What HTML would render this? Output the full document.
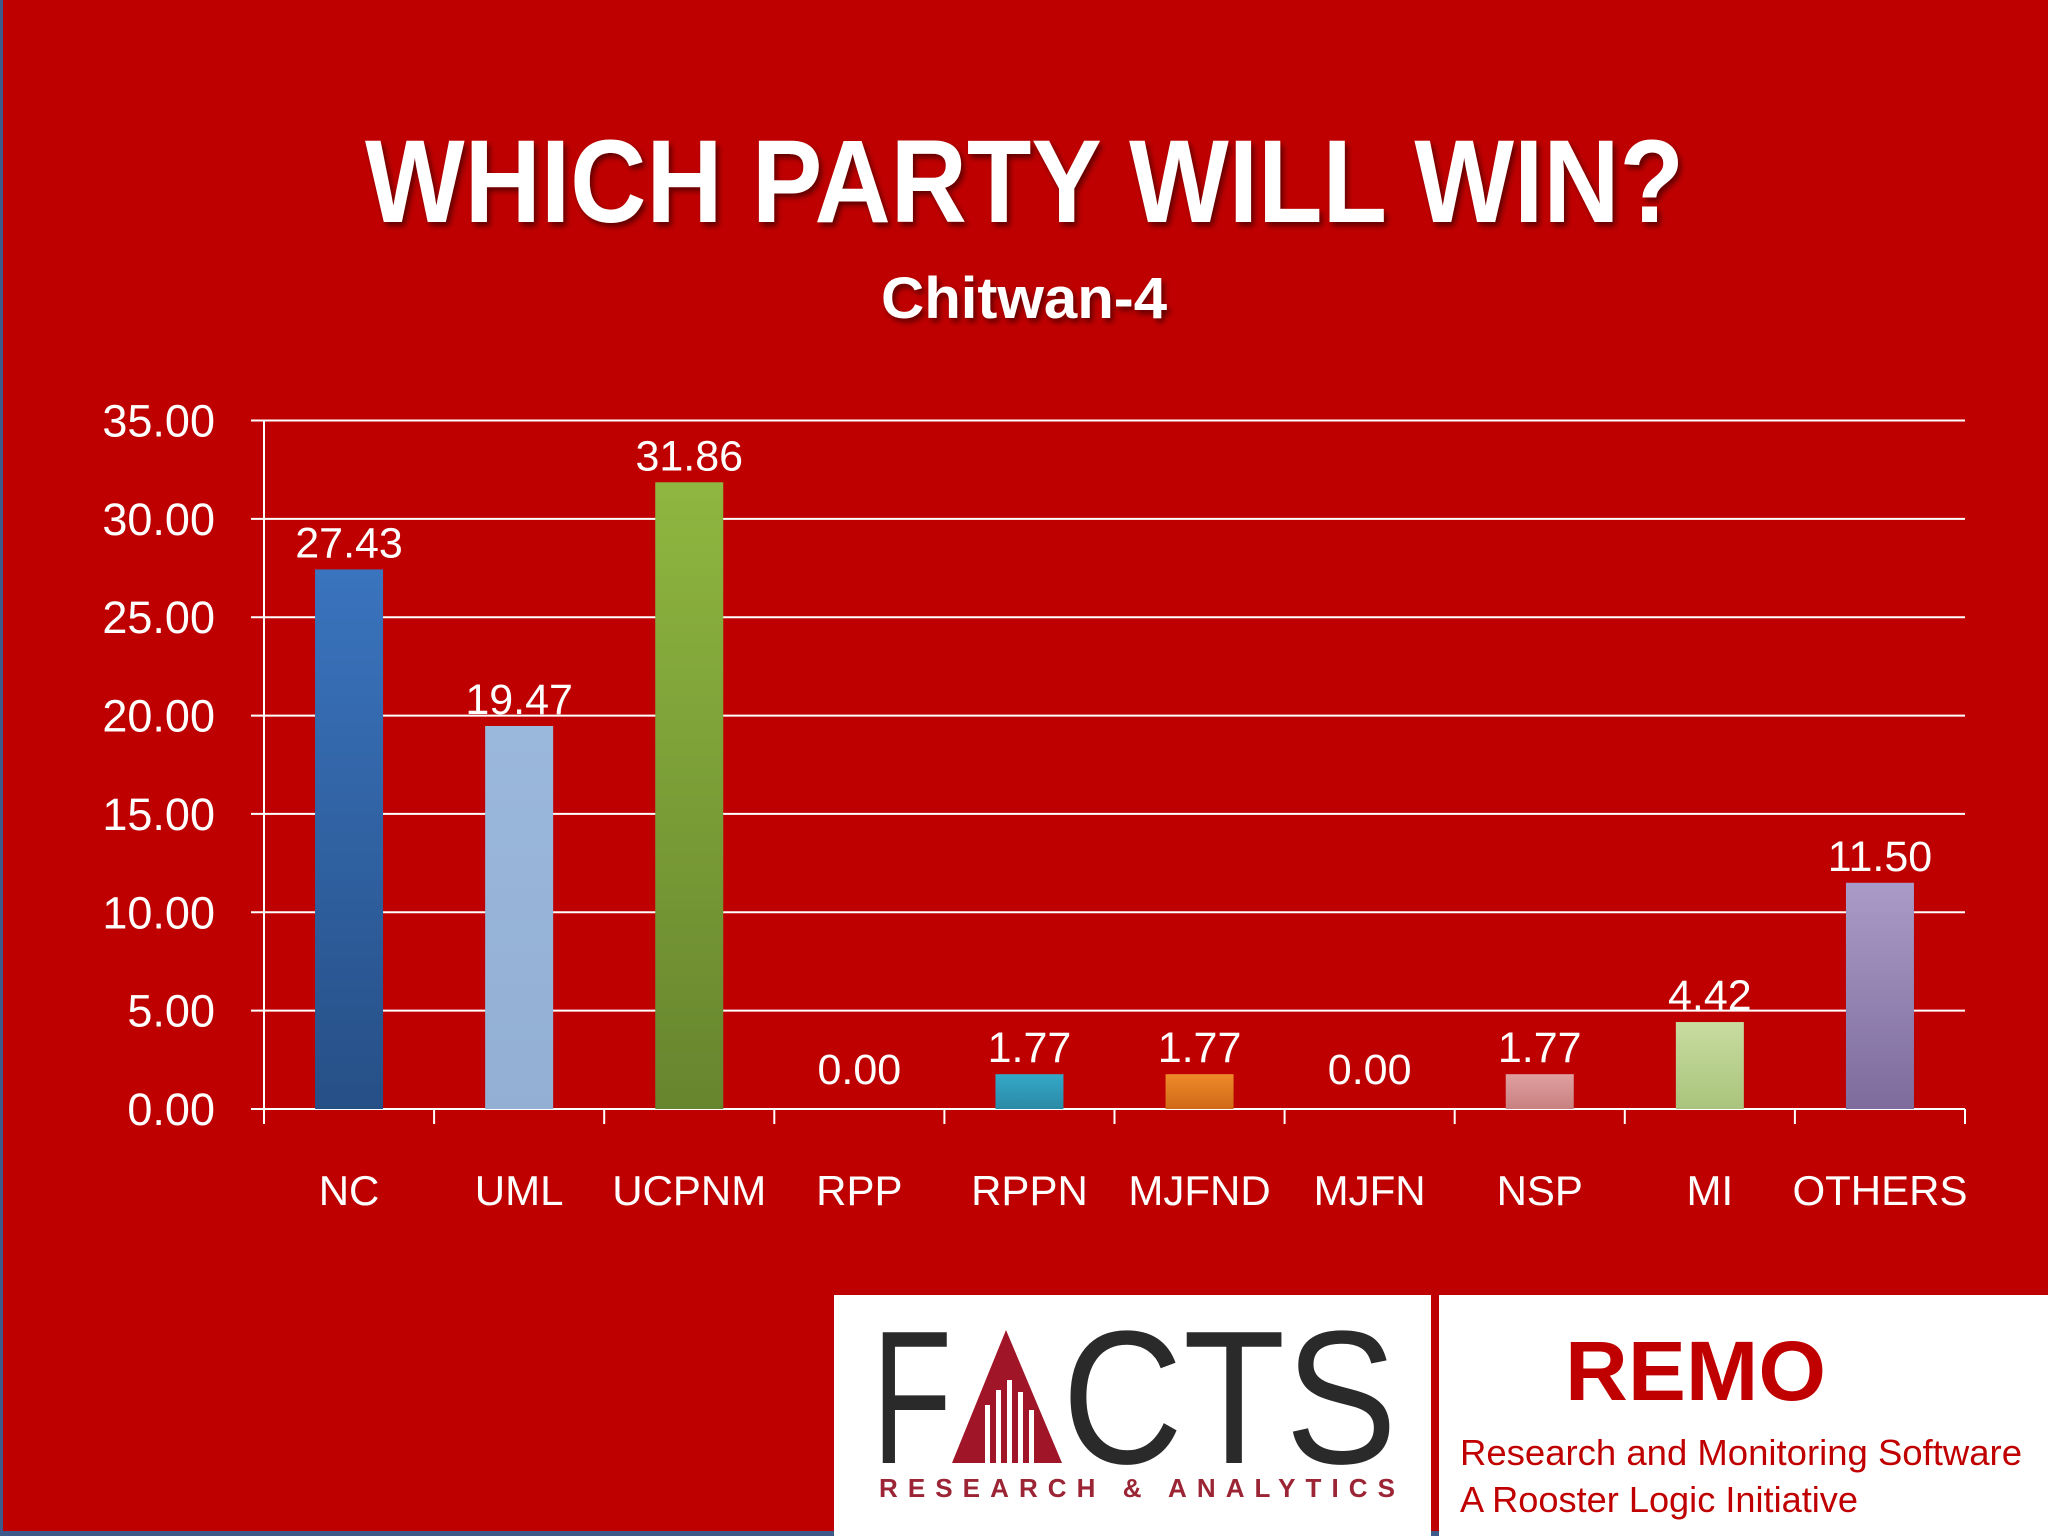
<!DOCTYPE html>
<html><head><meta charset="utf-8"><style>
html,body{margin:0;padding:0;width:2048px;height:1536px;overflow:hidden;background:#bf0000}
svg{display:block}
text{font-family:"Liberation Sans",sans-serif}
</style></head><body>
<svg id="chart" width="2048" height="1536" viewBox="0 0 2048 1536">
<defs>
<filter id="sh" x="-5%" y="-5%" width="110%" height="130%"><feDropShadow dx="3" dy="4" stdDeviation="3" flood-color="#000" flood-opacity="0.5"/></filter>
<linearGradient id="gNC" x1="0" y1="0" x2="0" y2="1"><stop offset="0" stop-color="#3a74be"/><stop offset="1" stop-color="#264f86"/></linearGradient>
<linearGradient id="gUML" x1="0" y1="0" x2="0" y2="1"><stop offset="0" stop-color="#9ab8dc"/><stop offset="1" stop-color="#93b0d4"/></linearGradient>
<linearGradient id="gUC" x1="0" y1="0" x2="0" y2="1"><stop offset="0" stop-color="#8fb640"/><stop offset="1" stop-color="#67852e"/></linearGradient>
<linearGradient id="gRPPN" x1="0" y1="0" x2="0" y2="1"><stop offset="0" stop-color="#35a8c8"/><stop offset="1" stop-color="#2a8aa6"/></linearGradient>
<linearGradient id="gMJ" x1="0" y1="0" x2="0" y2="1"><stop offset="0" stop-color="#ee8a2a"/><stop offset="1" stop-color="#d06a18"/></linearGradient>
<linearGradient id="gNSP" x1="0" y1="0" x2="0" y2="1"><stop offset="0" stop-color="#e0a0a0"/><stop offset="1" stop-color="#c88080"/></linearGradient>
<linearGradient id="gMI" x1="0" y1="0" x2="0" y2="1"><stop offset="0" stop-color="#c8dca0"/><stop offset="1" stop-color="#a9c47c"/></linearGradient>
<linearGradient id="gOT" x1="0" y1="0" x2="0" y2="1"><stop offset="0" stop-color="#a99bc8"/><stop offset="1" stop-color="#7e6c9c"/></linearGradient>
</defs>
<rect x="0" y="0" width="2048" height="1536" fill="#bf0000"/>
<rect x="0" y="0" width="3" height="1536" fill="#3d5a8a"/>
<rect x="0" y="1531" width="2048" height="5" fill="#3d5a8a"/>
<text x="365" y="222" font-size="118" font-weight="bold" fill="#fff" textLength="1319" lengthAdjust="spacingAndGlyphs" filter="url(#sh)">WHICH PARTY WILL WIN?</text>
<text x="881" y="318" font-size="58" font-weight="bold" fill="#fff" textLength="286" lengthAdjust="spacingAndGlyphs" filter="url(#sh)">Chitwan-4</text>
<g id="plot"></g>

<rect x="834" y="1295" width="597" height="241" fill="#fff"/>
<rect x="1439" y="1295" width="609" height="241" fill="#fff"/>
<g>
<text x="872" y="1463" font-size="190" fill="#2a2a2a" textLength="80" lengthAdjust="spacingAndGlyphs">F</text>
<polygon points="1006,1330 952,1463 1062,1463" fill="#a01528"/>
<g fill="#fff">
<rect x="985" y="1405" width="5" height="58"/><rect x="996" y="1390" width="5" height="73"/><rect x="1007" y="1380" width="5" height="83"/><rect x="1018" y="1392" width="5" height="71"/><rect x="1029" y="1410" width="5" height="53"/>
</g>
<text x="1062" y="1463" font-size="190" fill="#2a2a2a" textLength="335" lengthAdjust="spacingAndGlyphs">CTS</text>
<text x="879" y="1497" font-size="26" font-weight="bold" fill="#9b2535" textLength="516" lengthAdjust="spacing">RESEARCH &amp; ANALYTICS</text>
</g>
<text x="1565" y="1400" font-size="84" font-weight="bold" fill="#c00000" textLength="261" lengthAdjust="spacingAndGlyphs">REMO</text>
<text x="1460" y="1465" font-size="36" fill="#c00000" textLength="562" lengthAdjust="spacingAndGlyphs">Research and Monitoring Software</text>
<text x="1460" y="1512" font-size="36" fill="#c00000" textLength="398" lengthAdjust="spacingAndGlyphs">A Rooster Logic Initiative</text>
</svg>
<script>
const categories = ["NC","UML","UCPNM","RPP","RPPN","MJFND","MJFN","NSP","MI","OTHERS"];
const values = [27.43,19.47,31.86,0.00,1.77,1.77,0.00,1.77,4.42,11.50];
const yTicks = [0,5,10,15,20,25,30,35];
const fills = ["url(#gNC)","url(#gUML)","url(#gUC)","none","url(#gRPPN)","url(#gMJ)","none","url(#gNSP)","url(#gMI)","url(#gOT)"];
const NS="http://www.w3.org/2000/svg";
const X0=264,X1=1965,Y0=1109,Y1=420.5,YMAX=35;
const bw=(X1-X0)/categories.length;
function y(v){return Y0-(v/YMAX)*(Y0-Y1);}
function xc(i){return X0+bw*(i+0.5);}
const g=document.getElementById('plot');
function el(t,a){const e=document.createElementNS(NS,t);for(const k in a)e.setAttribute(k,a[k]);g.appendChild(e);return e;}
yTicks.forEach(t=>{
  const l=el('line',{x1:251,x2:X1,y1:y(t),y2:y(t),stroke:'#fff','stroke-width':2});
  
  
  const tx=el('text',{x:215,y:y(t)+16,'font-size':45,fill:'#fff','text-anchor':'end'});
  tx.textContent=t.toFixed(2);
  
  
});
const ax=el('line',{x1:X0,x2:X0,y1:Y1,y2:Y0+15,stroke:'#fff','stroke-width':2});


for(let i=0;i<=categories.length;i++){
  const tk=el('line',{x1:X0+bw*i,x2:X0+bw*i,y1:Y0,y2:Y0+15,stroke:'#fff','stroke-width':2});
  
  
}
categories.forEach((c,i)=>{
  const v=values[i];
  if(v>0){
    const r=el('rect',{x:xc(i)-34,y:y(v),width:68,height:Y0-y(v),fill:fills[i]});
    
    
  }
  const lb=el('text',{x:xc(i),y:(v>0?y(v)-12:Y0-25),'font-size':43,fill:'#fff','text-anchor':'middle'});
  lb.textContent=v.toFixed(2);
  
  
  const cl=el('text',{x:xc(i),y:1205,'font-size':42,fill:'#fff','text-anchor':'middle'});
  cl.textContent=c;
  
  
});
</script>
</body></html>
